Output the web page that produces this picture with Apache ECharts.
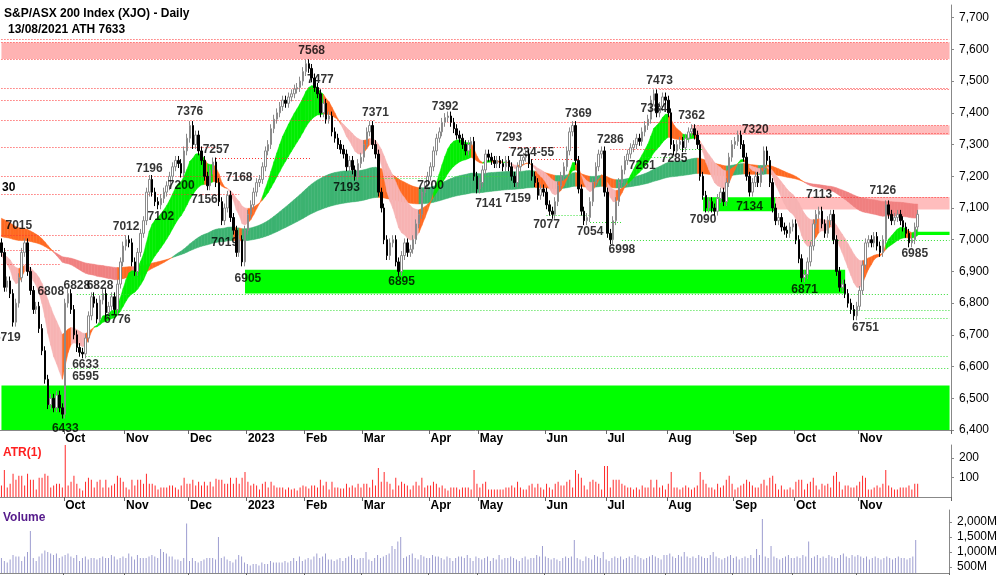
<!DOCTYPE html>
<html>
<head>
<meta charset="utf-8">
<script src="https://cdn.jsdelivr.net/npm/echarts@6/dist/echarts.min.js"></script>
<style>html,body{margin:0;padding:0;background:#fff}#c{width:1000px;height:575px}</style>
</head>
<body>
<div id="c"></div>
<script>
// daily closes, one list per month (Sep 2022 .. Nov 2023)
const closeSep22 = [6960,6850,6870,6830,6740,6800,6880,6960,6990,6900,6840,6780,6790,6720,6650,6560,6480,6500,6470,6510,6470,6450]
const closeOct22 = [6800,6830,6780,6700,6660,6645,6640,6690,6760,6820,6800,6750,6810,6830,6770,6790,6820,6780,6860,6930,6980]
const closeNov22 = [7000,6990,6930,6900,6960,7020,7060,7150,7190,7150,7120,7110,7130,7150,7170,7200,7230,7250,7240,7210,7280,7320]
const closeDec22 = [7360,7300,7330,7280,7250,7200,7170,7220,7245,7180,7120,7060,7100,7140,7070,7030,6960,7000,6930,7030]
const closeJan23 = [7080,7110,7150,7180,7190,7230,7280,7300,7350,7380,7400,7420,7440,7430,7450,7460,7475,7480,7500,7530]
const closeFeb23 = [7555,7540,7510,7480,7460,7400,7430,7380,7390,7340,7320,7300,7285,7270,7230,7250,7220,7200,7240,7260]
const closeMar23 = [7300,7340,7360,7300,7270,7150,7100,7000,6950,6990,7000,6930,6900,6950,6990,6960,6970,7000,7050,7080,7150,7170,7200]
const closeApr23 = [7230,7280,7320,7340,7370,7385,7390,7370,7350,7330,7320,7300,7280,7300,7310,7200,7160]
const closeMay23 = [7180,7220,7270,7260,7250,7240,7250,7240,7230,7250,7230,7200,7180,7230,7250,7260,7270,7240,7200,7180,7140,7160,7150]
const closeJun23 = [7110,7090,7080,7120,7170,7200,7230,7280,7340,7360,7250,7160,7090,7060,7070,7120,7180,7230,7270,7280,7150]
const closeJul23 = [7020,7000,7060,7120,7180,7220,7250,7270,7290,7300,7320,7310,7340,7360,7380,7440,7460,7400,7420,7450,7440]
const closeAug23 = [7400,7300,7280,7300,7310,7290,7320,7340,7350,7330,7300,7200,7140,7100,7120,7100,7090,7130,7150,7120,7180,7260,7300]
const closeSep23 = [7310,7330,7300,7260,7200,7150,7180,7200,7180,7220,7280,7250,7180,7100,7060,7070,7040,7030,7020,7040,7050]
const closeOct23 = [7000,6940,6880,6890,6930,6980,7050,7080,7090,7050,7020,7060,7080,7000,6900,6850,6860,6830,6800,6780,6760,6790]
const closeNov23 = [6840,6920,6990,7000,6990,7010,6980,6960,7000,7110,7080,7060,7070,7080,7060,7040,7020,6990,7000,7040,7080]

// volume in millions, per month
const volSep22 = [800,700,650,750,900,850,850,700,850,1000,1700,800,700,850,950,1050,1000,950,900,950,800,850]
const volOct22 = [900,950,850,800,900,700,800,850,750,800,800,750,800,850,800,800,900,850,750,800,850]
const volNov22 = [800,950,850,750,900,800,800,800,850,900,850,800,1100,1000,950,850,850,750,750,700,800,1950]
const volDec22 = [700,800,700,650,700,750,800,800,800,750,1500,800,850,750,700,650,750,900,850,650]
const volJan23 = [600,550,600,600,550,650,600,600,700,650,650,650,650,700,650,700,800,700,850,700]
const volFeb23 = [750,800,750,850,950,800,850,950,750,750,700,750,800,700,800,850,900,800,750,800]
const volMar23 = [800,1000,750,700,800,900,800,850,900,950,1200,1100,1350,1500,800,850,900,950,800,750,900,850,800]
const volApr23 = [800,900,850,850,800,750,850,800,700,800,850,850,800,900,800,700,850]
const volMay23 = [800,750,800,850,700,800,750,900,750,800,800,850,800,750,700,800,850,750,800,800,900,850,1200]
const volJun23 = [850,800,750,800,750,700,800,850,800,850,1400,800,750,700,850,800,750,900,850,800,1000]
const volJul23 = [750,700,800,850,800,850,750,800,850,800,900,850,800,750,800,850,900,850,800,750,900]
const volAug23 = [900,950,850,800,900,850,1000,850,800,850,800,900,850,800,800,900,1000,850,800,750,800,850,900]
const volSep23 = [800,850,750,800,850,800,900,800,1100,900,2100,850,800,1200,850,800,750,800,850,900,800]
const volOct23 = [800,850,800,900,850,1350,800,850,900,800,850,800,900,850,800,800,900,950,850,800,900,850]
const volNov23 = [900,850,800,850,750,800,850,800,750,800,850,800,750,800,850,800,800,750,800,850,1400]

// ASX trading holidays in range
const holidays = ['2022-12-26','2022-12-27','2023-01-02','2023-01-26','2023-04-07','2023-04-10','2023-04-25','2023-06-12']

// pivot labels: bar index, value, side
const pivotIdx = [6,43,26,34,17,51,65,74,82,107,110,129,153,175,183,199,210,225,227,238,260,282,304,
                  2,22,29,29,40,55,62,70,77,85,119,138,148,168,178,188,203,214,221,232,242,258,277,298,315]
const pivotVal = [7015,7012,6828,6828,6808,7196,7376,7257,7168,7568,7477,7371,7392,7293,'7234-55',7369,7286,7384,7473,7362,7320,7113,7126,
                  6719,6433,6633,6595,6776,7102,7200,7156,7019,6905,7193,6895,7200,7141,7159,7077,7054,6998,7261,7285,7090,7134,6871,6751,6985]
const pivotY   = [7015,7012,6828,6828,6808,7196,7376,7257,7168,7568,7477,7371,7392,7293,7245,7369,7286,7384,7473,7362,7320,7113,7126,
                  6719,6433,6633,6595,6776,7102,7200,7156,7019,6905,7193,6895,7200,7141,7159,7077,7054,6998,7261,7285,7090,7134,6871,6751,6985]
const pivotTop = 23

// support / resistance: [startIdx, endIdx, level]
const redLines = [[0,327,7633],[0,327,7622],[0,327,7570],[0,327,7477],[227,327,7473],[0,107,7440],[0,129,7376],[129,227,7371],
  [199,238,7369],[238,327,7362],[238,327,7335],[0,74,7293],[175,199,7293],[74,107,7257],[183,199,7255],[210,225,7286],
  [0,148,7200],[0,82,7142],[267,327,7135],[0,43,7015],[0,20,6968],[0,20,6924]]
const greenLines = [[26,327,6828],[40,327,6776],[29,327,6633],[22,327,6595],[214,327,6998],[298,327,6751],[119,148,7193],
  [148,175,7200],[188,203,7077],[203,214,7054],[221,232,7261],[232,242,7285]]
// zones: [startIdx, endIdx, low, high, colour]
const zones = [[0,327,7570,7622,'#ffb3b3'],[0,327,6400,6540,'#00ff00'],[84,291,6830,6905,'#00ff00'],[242,267,7090,7134,'#00ff00'],
  [238,327,7330,7360,'#ffbdbd'],[267,327,7095,7135,'#ffbdbd'],[315,327,7015,7025,'#00ff00']]

const closes = [].concat(closeSep22,closeOct22,closeNov22,closeDec22,closeJan23,closeFeb23,closeMar23,closeApr23,closeMay23,closeJun23,closeJul23,closeAug23,closeSep23,closeOct23,closeNov23)
const volumes = [].concat(volSep22,volOct22,volNov22,volDec22,volJan23,volFeb23,volMar23,volApr23,volMay23,volJun23,volJul23,volAug23,volSep23,volOct23,volNov23)
const TOTAL = 328
const monthNames = ['Jan','Feb','Mar','Apr','May','Jun','Jul','Aug','Sep','Oct','Nov','Dec']

// trading-day categories
const dates = []
let d = new Date(Date.UTC(2022, 8, 1))
while (dates.length < TOTAL) {
  const wd = d.getUTCDay(), s = d.toISOString().slice(0, 10)
  if (wd !== 0 && wd !== 6 && !holidays.includes(s)) dates.push(s)
  d = new Date(d.getTime() + 86400000)
}
const monthStart = new Set()
for (let i = 1; i < closes.length; i++) if (dates[i].slice(5, 7) !== dates[i - 1].slice(5, 7)) monthStart.add(i)
const monthLabel = (v) => { const m = +v.slice(5, 7); return m === 1 ? v.slice(0, 4) : monthNames[m - 1] }

// candles
const ohlc = []
const atr = []
for (let i = 0; i < closes.length; i++) {
  const o = i ? closes[i - 1] : 6990
  const c = closes[i]
  const h = Math.max(o, c) + 14, l = Math.min(o, c) - 14
  ohlc.push([o, c, l, h])
  atr.push(h - l)
}

const ema = (arr, n, seed) => { const k = 2 / (n + 1); let e = seed; return arr.map(v => (e = v * k + e * (1 - k))) }
const ribbon = (f, s, up, down, mid) => {
  const out = []
  for (let i = 0; i < f.length - 1; i++) {
    const rising = s[i + 1] >= s[i]
    const col = f[i] >= s[i] ? (rising ? up : mid) : (rising ? mid : down)
    out.push([i, f[i], s[i], f[i + 1], s[i + 1], col])
  }
  return out
}
const shortRib = ribbon(ema(closes, 10, 6950), ema(closes, 25, 6960), '#00ee00', '#f7b3b3', '#ff6a22')
const longRib = ribbon(ema(closes, 90, 7070), ema(closes, 180, 7010), '#3cb371', '#f08080', '#ff6a22')

const ribbonSeries = (data) => ({
  type: 'custom', xAxisIndex: 0, yAxisIndex: 0, silent: true, z: 2,
  renderItem: (params, api) => {
    const a0 = api.coord([api.value(0), api.value(1)]), b0 = api.coord([api.value(0), api.value(2)])
    const a1 = api.coord([api.value(0) + 1, api.value(3)]), b1 = api.coord([api.value(0) + 1, api.value(4)])
    const col = data[params.dataIndex][5]
    return { type: 'polygon', shape: { points: [a0, a1, b1, b0] }, style: { fill: col, stroke: col, lineWidth: 0.5 } }
  },
  encode: { x: 0, y: [1, 2] },
  data: data
})

const lineData = (list) => list.map(r => [{ coord: [r[0], r[2]] }, { coord: [r[1], r[2]] }])

const chart = echarts.init(document.getElementById('c'))
const font = 'Arial, Liberation Sans, sans-serif'
const xCommon = (gi, showLabel) => ({
  type: 'category', gridIndex: gi, data: dates, boundaryGap: true,
  axisLine: { show: true, lineStyle: { color: '#888' } },
  axisTick: { show: true, interval: (i) => monthStart.has(i), length: 4, lineStyle: { color: '#666' } },
  axisLabel: { show: showLabel, interval: (i) => monthStart.has(i), formatter: monthLabel, align: 'left', margin: 3,
    color: '#000', fontSize: 12, fontWeight: 'bold', fontFamily: font },
  splitLine: { show: false }
})
const yRight = (gi, min, max, interval, extra) => Object.assign({
  type: 'value', gridIndex: gi, position: 'right', min: min, max: max, interval: interval,
  axisLine: { show: true, lineStyle: { color: '#888' } }, axisTick: { show: true, length: 3 },
  axisLabel: { color: '#000', fontSize: 12, fontFamily: font, margin: 8, showMaxLabel: false,
    formatter: (v) => v.toLocaleString('en-US') },
  splitLine: { show: false }
}, extra || {})

chart.setOption({
  animation: false,
  backgroundColor: '#fff',
  graphic: [
    { type: 'text', left: 4, top: 8, style: { text: 'S&P/ASX 200 Index (XJO) - Daily', font: 'bold 12px Arial', fill: '#000' } },
    { type: 'text', left: 8, top: 24, style: { text: '13/08/2021 ATH 7633', font: 'bold 12px Arial', fill: '#000' } },
    { type: 'text', left: 2, top: 182, style: { text: '30', font: 'bold 12px Arial', fill: '#000' } },
    { type: 'text', left: 3, top: 447, style: { text: 'ATR(1)', font: 'bold 12px Arial', fill: '#ff2020' } },
    { type: 'text', left: 3, top: 512, style: { text: 'Volume', font: 'bold 12px Arial', fill: '#551a8b' } }
  ],
  grid: [
    { left: 0, right: 49, top: 5, height: 425 },
    { left: 0, right: 49, top: 445, height: 52 },
    { left: 0, right: 49, top: 510, height: 63 }
  ],
  xAxis: [xCommon(0, true), xCommon(1, true), xCommon(2, false)],
  yAxis: [
    yRight(0, 6400, 7740, 100),
    yRight(1, 0, 265, 100, { axisLabel: { color: '#000', fontSize: 12, fontFamily: font, margin: 8, customValues: [100, 200] }, axisTick: { show: true, length: 3, customValues: [100, 200] } }),
    yRight(2, 300, 2400, 500, { axisLabel: { color: '#000', fontSize: 12, fontFamily: font, margin: 8, customValues: [500, 1000, 1500, 2000], formatter: (v) => v.toLocaleString('en-US') + 'M' }, axisTick: { show: true, length: 3, customValues: [500, 1000, 1500, 2000] } })
  ],
  series: [
    {
      type: 'line', xAxisIndex: 0, yAxisIndex: 0, data: [], silent: true,
      markArea: { silent: true, data: zones.map(z => [{ coord: [z[0], z[2]], itemStyle: { color: z[4] } }, { coord: [z[1], z[3]] }]) }
    },
    ribbonSeries(longRib),
    ribbonSeries(shortRib),
    {
      type: 'candlestick', xAxisIndex: 0, yAxisIndex: 0, data: ohlc, barWidth: 2, z: 5,
      itemStyle: { color: '#fff', borderColor: '#8a8a8a', color0: '#000', borderColor0: '#000', borderWidth: 1 },
      markLine: {
        silent: true, symbol: 'none', label: { show: false },
        data: lineData(redLines).map(p => (p[0].lineStyle = { color: '#ff3030', type: [1, 2], width: 1 }, p))
          .concat(lineData(greenLines).map(p => (p[0].lineStyle = { color: '#33dd33', type: [1, 2], width: 1 }, p)))
      }
    },
    {
      type: 'scatter', xAxisIndex: 0, yAxisIndex: 0, symbolSize: 0, z: 10, silent: true,
      data: pivotIdx.map((x, i) => ({
        value: [x, pivotY[i]],
        label: { show: true, formatter: String(pivotVal[i]), position: i < pivotTop ? 'top' : 'bottom', distance: 3,
          color: '#000', fontSize: 12, fontWeight: 'bold', fontFamily: font }
      }))
    },
    { type: 'bar', xAxisIndex: 1, yAxisIndex: 1, data: atr, barWidth: 1, itemStyle: { color: '#ff2a2a' } },
    { type: 'bar', xAxisIndex: 2, yAxisIndex: 2, data: volumes, barWidth: 1, itemStyle: { color: '#9d9dd0' } }
  ]
})
</script>
</body>
</html>
